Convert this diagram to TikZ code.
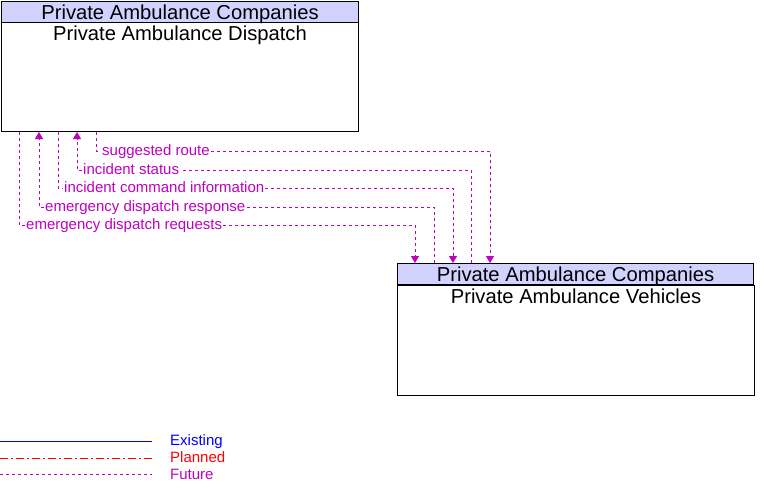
\documentclass[tikz,border=0pt]{standalone}
\usepackage{fontspec}
\setmainfont{Liberation Sans}
\usetikzlibrary{arrows.meta}
\definecolor{futcol}{RGB}{192,0,192}
\definecolor{hdrcol}{RGB}{210,210,255}

\begin{document}
\begin{tikzpicture}[x=1pt,y=-1pt,
  hdr/.style={draw=black,fill=hdrcol,line width=1pt,minimum width=357pt,minimum height=21pt,inner sep=0pt,anchor=north west,text height=14.5pt,text depth=0pt,font=\fontsize{20.2}{20.2}\selectfont},
  body/.style={draw=black,fill=white,line width=1pt,minimum width=357pt,inner sep=0pt,anchor=north west},
  ttl/.style={anchor=north,inner sep=0pt,font=\fontsize{20.2}{20.2}\selectfont},
  flow/.style={futcol,line width=1pt,dash pattern=on 3pt off 3pt},
  lbl/.style={text=futcol,fill=white,inner sep=1pt,anchor=west,text height=8pt,text depth=0pt,font=\fontsize{15}{15}\selectfont},
  tip/.style={-{Triangle[width=8pt,length=7pt]}},
  key/.style={anchor=west,inner sep=0pt,text height=8pt,text depth=0pt,font=\fontsize{15}{15}\selectfont}]
\useasboundingbox (0,0) rectangle (764,493);
% boxes
\node[body,minimum height=109pt] (disp) at (1,22) {};
\node[hdr] (disph) at (1,1) {Private Ambulance Companies};
\node[ttl] (dispt) at ([yshift=-4pt]disp.north) {Private Ambulance Dispatch};
\node[body,minimum height=110pt] (vhc) at (397,285) {};
\node[hdr,minimum width=356pt] (vhch) at (397,263) {Private Ambulance Companies};
\node[ttl] (vhct) at ([yshift=-4pt]vhc.north) {Private Ambulance Vehicles};
% flows
\node[lbl] (l1) at (101,151) {suggested route};
\node[lbl] (l2) at (82,170) {incident status};
\node[lbl] (l3) at (63,188) {incident command information};
\node[lbl] (l4) at (44,207) {emergency dispatch response};
\node[lbl] (l5) at (25,225) {emergency dispatch requests};
\draw[flow] ([xshift=95pt]disp.south west) |- (l1.west);
\draw[flow,tip] (l1.east) -| ([xshift=93pt]vhch.north west);
\draw[flow] ([xshift=74pt]vhch.north west) |- (l2.east);
\draw[flow,tip] (l2.west) -| ([xshift=76pt]disp.south west);
\draw[flow] ([xshift=57pt]disp.south west) |- (l3.west);
\draw[flow,tip] (l3.east) -| ([xshift=56pt]vhch.north west);
\draw[flow] ([xshift=37pt]vhch.north west) |- (l4.east);
\draw[flow,tip] (l4.west) -| ([xshift=38pt]disp.south west);
\draw[flow] ([xshift=18pt]disp.south west) |- (l5.west);
\draw[flow,tip] (l5.east) -| ([xshift=18pt]vhch.north west);
% legend
\node[key,text=blue] (kex) at (170,441) {Existing};
\node[key,text=red] (kpl) at (170,458) {Planned};
\node[key,text=futcol] (kfu) at (170,475) {Future};
\draw[blue,line width=1pt] (0,441) -- (152,441);
\draw[red,line width=1pt,dash pattern=on 8pt off 3pt on 2pt off 3pt] (0,458) -- (152,458);
\draw[flow] (0,474) -- (152,474);
\end{tikzpicture}
\end{document}
